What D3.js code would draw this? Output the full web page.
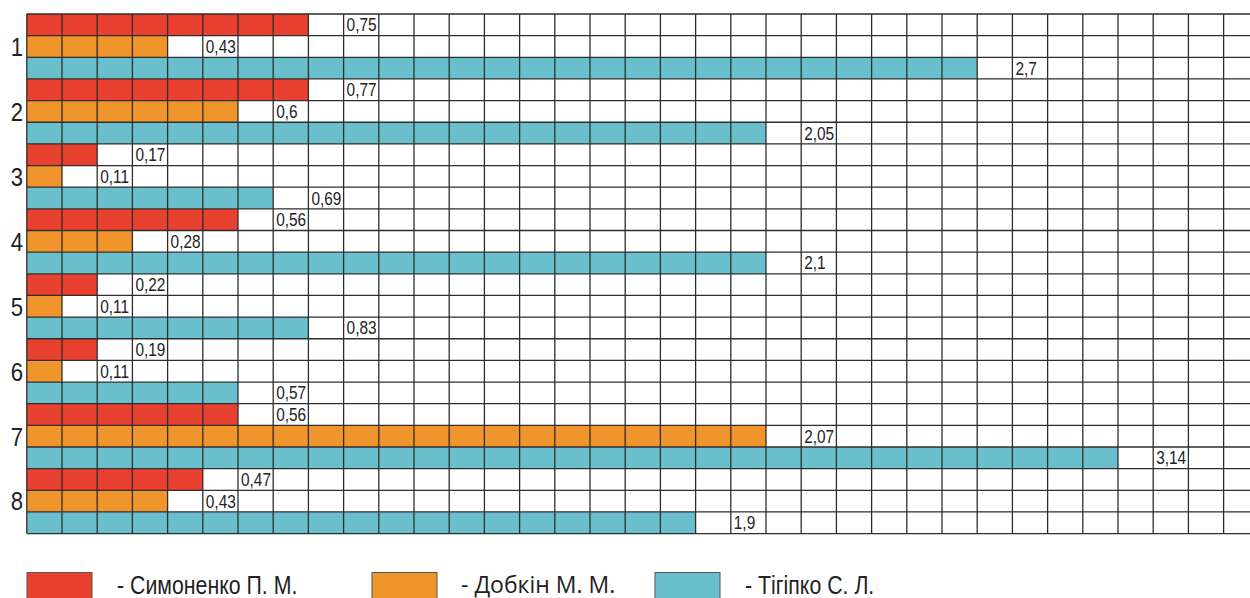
<!DOCTYPE html>
<html>
<head>
<meta charset="utf-8">
<script src="https://cdnjs.cloudflare.com/ajax/libs/d3/7.8.5/d3.min.js"></script>
<style>
html,body{margin:0;padding:0;background:#fff;}
svg{display:block;}
</style>
</head>
<body>
<script>
// ---- data ----
const categories = ["1","2","3","4","5","6","7","8"];
const seriesNames = ["Симоненко П. М.","Добкін М. М.","Тігіпко С. Л."];
const simonenko = [0.75,0.77,0.17,0.56,0.22,0.19,0.56,0.47];
const dobkin    = [0.43,0.60,0.11,0.28,0.11,0.11,2.07,0.43];
const tigipko   = [2.70,2.05,0.69,2.10,0.83,0.57,3.14,1.90];
const colors = ["#e8412f","#f0952c","#6abfcc"];

const W = 1250, H = 598;
const svg = d3.select("body").append("svg").attr("width", W).attr("height", H);

const cw = 35.2, x0 = 26.8;
const nCols = 36;
const x = d3.scaleLinear().domain([0, nCols/10]).range([x0, x0 + nCols*cw]);

const series = [simonenko, dobkin, tigipko];
const rowKeys = [];
categories.forEach(c => series.forEach((s,i) => rowKeys.push(c + "-" + i)));
const y = d3.scaleBand().domain(rowKeys).range([14, 533.6]).padding(0);

const cells = v => Math.round(v*10 + 1e-6);
const fmt = v => String(v).replace(".", ",");

const rows = [];
categories.forEach((c,ci) => series.forEach((s,si) => rows.push({cat:c, si, v:s[ci], key:c+"-"+si})));

// bars
svg.append("g").selectAll("rect").data(rows).join("rect")
  .attr("x", x(0))
  .attr("y", d => y(d.key))
  .attr("width", d => x(cells(d.v)/10) - x(0))
  .attr("height", y.bandwidth())
  .attr("fill", d => colors[d.si]);

// grid
const grid = svg.append("g").attr("stroke", "#2e2e2e").attr("stroke-width", 1.3);
const xt = d3.range(0, nCols+1).map(k => k/10);
grid.selectAll("line.v").data(xt).join("line").attr("class","v")
  .attr("x1", d => x(d)).attr("x2", d => x(d))
  .attr("y1", y.range()[0]).attr("y2", y.range()[1]);
const yt = rowKeys.map(k => y(k)).concat([y.range()[1]]);
grid.selectAll("line.h").data(yt).join("line").attr("class","h")
  .attr("x1", x(0)).attr("x2", W + 10)
  .attr("y1", d => d).attr("y2", d => d);

// value labels
svg.append("g").selectAll("text").data(rows).join("text")
  .attr("transform", d => `translate(${x((cells(d.v)+1)/10) + 3},${y(d.key) + y.bandwidth()/2 + 6.5}) scale(0.88,1)`)
  .attr("font-family", "Liberation Sans, Arial, sans-serif")
  .attr("font-size", 17.5)
  .attr("fill", "#222")
  .text(d => fmt(d.v));

// group numbers
svg.append("g").selectAll("text").data(categories).join("text")
  .attr("transform", c => `translate(23,${y(c+"-1") + y.bandwidth() - 1.5}) scale(0.85,1)`)
  .attr("text-anchor", "end")
  .attr("font-family", "Liberation Sans, Arial, sans-serif")
  .attr("font-size", 26)
  .attr("fill", "#222")
  .text(c => c);

// legend
const legX = [27, 372, 655];
const legTX = [117, 461, 745];
const legY = [594, 592.5, 594];
const legFont = ["Liberation Sans, Arial, sans-serif", "Open Sans, sans-serif", "Liberation Sans, Arial, sans-serif"];
const legScale = [0.82, 1, 0.82];
const legSize = [26, 23, 26];
const leg = svg.append("g");
seriesNames.forEach((n,i) => {
  leg.append("rect").attr("x", legX[i]).attr("y", 572.5).attr("width", 65).attr("height", 40)
    .attr("fill", colors[i]).attr("stroke", "#555").attr("stroke-width", 1);
  leg.append("text")
    .attr("transform", `translate(${legTX[i]},${legY[i]}) scale(${legScale[i]},1)`)
    .attr("font-family", legFont[i])
    .attr("font-size", legSize[i])
    .attr("fill", "#222")
    .text("- " + n);
});
</script>
</body>
</html>
